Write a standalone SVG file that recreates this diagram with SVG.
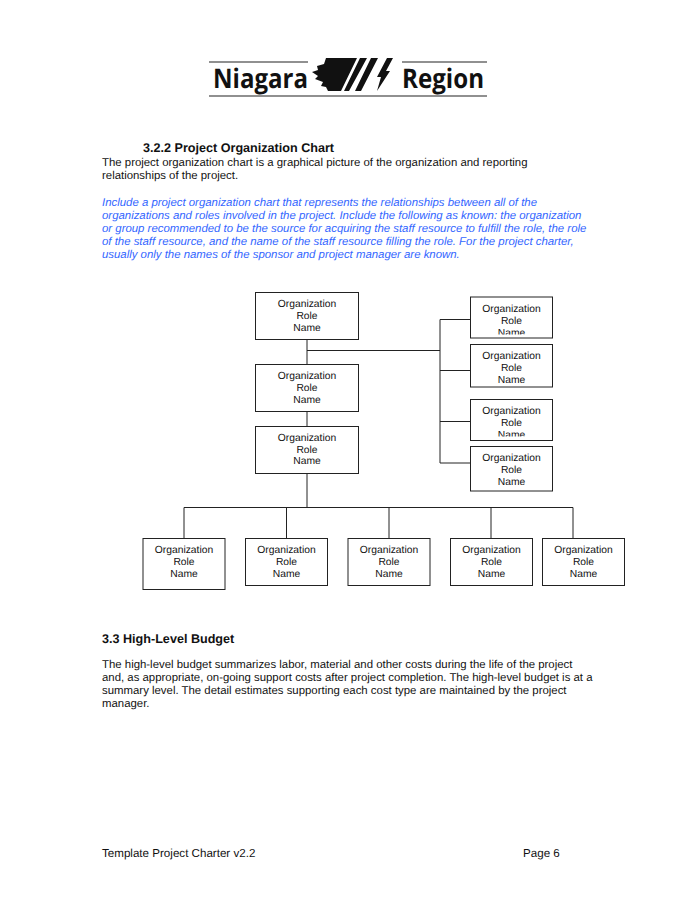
<svg xmlns="http://www.w3.org/2000/svg" width="696" height="900" viewBox="0 0 696 900">
<style>
text{font-family:"Liberation Sans",Arial,sans-serif;fill:#111;text-rendering:geometricPrecision}
.b{font-size:11.4px}
.f{font-size:11.6px}
.h{font-size:12.6px;font-weight:bold}
.i{font-size:11.4px;font-style:italic;fill:#3366ff}
.n text{font-size:10.3px;text-anchor:middle;fill:#111}
.n rect{fill:#fff;stroke:#222;stroke-width:1}
.c path{fill:none;stroke:#222;stroke-width:1}
.logo{font-size:27px;font-weight:bold;font-family:"Open Sans","Liberation Sans",sans-serif;fill:#111}
</style>
<defs>
<clipPath id="c1"><rect x="471" y="297" width="82" height="37.500"/></clipPath>
<clipPath id="c3"><rect x="471" y="399" width="82" height="37.500"/></clipPath>
</defs>
<g id="logo">
<path d="M209 62H308M402 62H487M209 96H487" stroke="#222" stroke-width="1.2" fill="none"/>
<text class="logo" x="213" y="88" textLength="95" lengthAdjust="spacingAndGlyphs">Niagara</text>
<text class="logo" x="402" y="88" textLength="82" lengthAdjust="spacingAndGlyphs">Region</text>
<path fill="#111" d="M326 58H357L341 91H328L326 87L321 86L323 82L315 79L318 76L312 72L318 70L317 66L324 64Z"/>
<path fill="#111" d="M360 58H367L349 91H344ZM371 58H378L361 91H355Z"/>
<path fill="#111" d="M387 58H393L386 71H390L377 91L381 77H377Z"/>
</g>
<text class="h" x="143" y="152">3.2.2 Project Organization Chart</text>
<text class="b" x="102" y="166">The project organization chart is a graphical picture of the organization and reporting</text>
<text class="b" x="102" y="179">relationships of the project.</text>
<text class="i" x="102" y="206">Include a project organization chart that represents the relationships between all of the</text>
<text class="i" x="102" y="219">organizations and roles involved in the project. Include the following as known: the organization</text>
<text class="i" x="102" y="232">or group recommended to be the source for acquiring the staff resource to fulfill the role, the role</text>
<text class="i" x="102" y="245">of the staff resource, and the name of the staff resource filling the role. For the project charter,</text>
<text class="i" x="102" y="258">usually only the names of the sponsor and project manager are known.</text>
<g id="connectors" class="c">
<path d="M307 339V364M307 412V426M307 473V507.5M307 350.5H440M440 319.5V463M440 319.5H471M440 370.5H471M440 421.5H471M440 463H471M184 507.5H573M184 507.5V538M286.5 507.5V538M389 507.5V538M491 507.5V538M573 507.5V538"/>
</g>
<g id="n1" class="n"><rect x="255.5" y="292.5" width="103" height="47"/><text x="307" y="307">Organization</text><text x="307" y="319">Role</text><text x="307" y="331">Name</text></g>
<g id="n2" class="n"><rect x="255.5" y="364.5" width="103" height="47"/><text x="307" y="379">Organization</text><text x="307" y="391">Role</text><text x="307" y="403">Name</text></g>
<g id="n3" class="n"><rect x="255.5" y="426.5" width="103" height="47"/><text x="307" y="441">Organization</text><text x="307" y="452.500">Role</text><text x="307" y="464">Name</text></g>
<g id="n4" class="n"><rect x="470.500" y="297" width="82" height="41"/><g clip-path="url(#c1)"><text x="511.500" y="312">Organization</text><text x="511.500" y="324">Role</text><text x="511.500" y="336">Name</text></g></g>
<g id="n5" class="n"><rect x="470.500" y="344.500" width="82" height="42.500"/><text x="511.500" y="359">Organization</text><text x="511.500" y="370.500">Role</text><text x="511.500" y="382.500">Name</text></g>
<g id="n6" class="n"><rect x="470.500" y="399.500" width="82" height="41"/><g clip-path="url(#c3)"><text x="511.500" y="414">Organization</text><text x="511.500" y="426">Role</text><text x="511.500" y="438">Name</text></g></g>
<g id="n7" class="n"><rect x="470.500" y="446.500" width="82" height="44.500"/><text x="511.500" y="461">Organization</text><text x="511.500" y="473">Role</text><text x="511.500" y="484.500">Name</text></g>
<g id="n8" class="n"><rect x="143" y="538.500" width="82" height="51"/><text x="184" y="553">Organization</text><text x="184" y="565">Role</text><text x="184" y="577">Name</text></g>
<g id="n9" class="n"><rect x="245.500" y="538.500" width="82" height="47"/><text x="286.500" y="553">Organization</text><text x="286.500" y="565">Role</text><text x="286.500" y="577">Name</text></g>
<g id="n10" class="n"><rect x="348" y="538.500" width="82" height="47"/><text x="389" y="553">Organization</text><text x="389" y="565">Role</text><text x="389" y="577">Name</text></g>
<g id="n11" class="n"><rect x="450.500" y="538.500" width="82" height="47"/><text x="491.500" y="553">Organization</text><text x="491.500" y="565">Role</text><text x="491.500" y="577">Name</text></g>
<g id="n12" class="n"><rect x="542.500" y="538.500" width="82" height="47"/><text x="583.500" y="553">Organization</text><text x="583.500" y="565">Role</text><text x="583.500" y="577">Name</text></g>
<text class="h" x="102" y="643">3.3 High-Level Budget</text>
<text class="b" x="102" y="668">The high-level budget summarizes labor, material and other costs during the life of the project</text>
<text class="b" x="102" y="681">and, as appropriate, on-going support costs after project completion. The high-level budget is at a</text>
<text class="b" x="102" y="694">summary level. The detail estimates supporting each cost type are maintained by the project</text>
<text class="b" x="102" y="707">manager.</text>
<text class="f" x="102" y="857">Template Project Charter v2.2</text>
<text class="f" x="523" y="857">Page 6</text>
</svg>
